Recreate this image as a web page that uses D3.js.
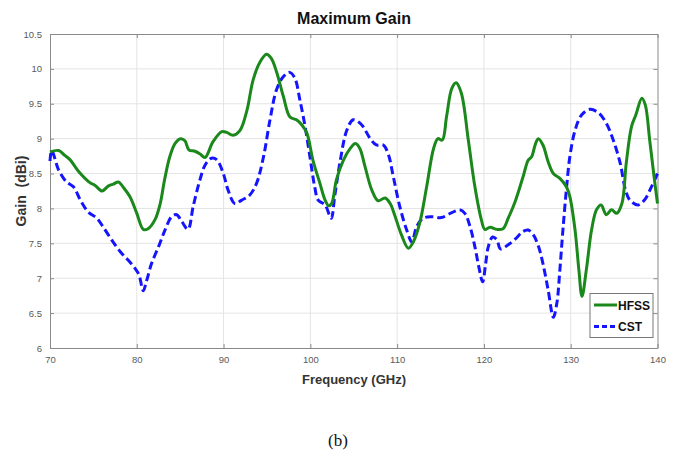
<!DOCTYPE html>
<html>
<head>
<meta charset="utf-8">
<script src="https://cdn.jsdelivr.net/npm/d3@7"></script>
<style>
  html, body { margin: 0; padding: 0; background: #fff; }
  svg { display: block; }
</style>
</head>
<body>
<svg id="chart" width="673" height="454"></svg>
<script>
// ---- Data ----
const title = "Maximum Gain";
const xLabel = "Frequency (GHz)";
const yLabel = "Gain  (dBi)";
const caption = "(b)";
const seriesNames = ["HFSS", "CST"];
const xTicks = [70, 80, 90, 100, 110, 120, 130, 140];
const yTicks = [6, 6.5, 7, 7.5, 8, 8.5, 9, 9.5, 10, 10.5];

const hfssFreq = [70, 71, 71.7, 72.3, 73.3, 74.6, 75.2, 76.0, 76.7, 77.3, 77.9, 78.4, 79.2, 80.0, 80.75, 81.3, 82.1, 82.7, 83.2, 83.8, 84.4, 85.05, 85.55, 86.0, 86.7, 87.3, 87.86, 88.8, 89.8, 90.35, 91.1, 91.9, 92.7, 93.4, 94.2, 94.96, 95.5, 96.1, 96.9, 97.65, 98.4, 99.0, 99.6, 100.3, 101.1, 101.7, 102.1, 102.45, 103.0, 103.8, 104.6, 105.2, 105.7, 106.3, 107.06, 107.8, 108.6, 109.2, 109.7, 110.5, 111.3, 111.86, 112.6, 113.4, 114.2, 114.7, 115.2, 115.7, 116.3, 116.8, 117.4, 118.2, 118.96, 119.7, 120.1, 120.7, 121.5, 122.2, 122.8, 123.6, 124.5, 125.1, 125.5, 125.9, 126.26, 126.8, 127.4, 128.0, 128.75, 129.5, 129.9, 130.5, 130.94, 131.3, 131.8, 132.4, 132.97, 133.5, 134.1, 134.7, 135.3, 135.9, 136.4, 137.0, 137.5, 138.2, 138.6, 139.1, 139.6, 140];
const hfssGain = [8.81, 8.83, 8.76, 8.70, 8.53, 8.37, 8.33, 8.25, 8.32, 8.35, 8.38, 8.31, 8.17, 7.93, 7.70, 7.71, 7.84, 8.07, 8.41, 8.74, 8.93, 9.0, 8.97, 8.84, 8.82, 8.78, 8.73, 8.96, 9.10, 9.09, 9.05, 9.12, 9.41, 9.84, 10.10, 10.21, 10.15, 9.96, 9.60, 9.31, 9.27, 9.20, 9.08, 8.69, 8.36, 8.12, 8.04, 8.07, 8.41, 8.69, 8.86, 8.93, 8.86, 8.60, 8.27, 8.11, 8.15, 8.07, 7.91, 7.62, 7.43, 7.52, 7.79, 8.31, 8.86, 9.0, 8.98, 9.32, 9.72, 9.80, 9.65, 8.98, 8.31, 7.84, 7.70, 7.73, 7.70, 7.71, 7.86, 8.10, 8.45, 8.69, 8.74, 8.91, 9.0, 8.91, 8.67, 8.50, 8.43, 8.31, 8.17, 7.69, 7.12, 6.74, 7.12, 7.69, 7.98, 8.05, 7.91, 7.98, 7.93, 8.07, 8.65, 9.17, 9.34, 9.58, 9.48, 8.98, 8.46, 8.07];

const cstFreq = [70, 70.2, 71.0, 71.9, 72.7, 73.5, 74.4, 75.4, 76.1, 77.1, 78.1, 79.0, 79.8, 80.25, 80.75, 81.1, 81.7, 82.5, 83.25, 84.0, 84.6, 85.2, 85.9, 86.5, 87.3, 87.86, 88.6, 89.2, 89.97, 90.5, 91.3, 92.1, 93.0, 93.8, 94.6, 95.35, 96.1, 96.9, 97.6, 98.2, 98.8, 99.4, 99.95, 100.5, 100.9, 101.7, 102.4, 102.8, 103.4, 104.2, 104.95, 105.9, 106.9, 107.6, 108.4, 109.0, 109.55, 110.3, 111.1, 111.7, 112.25, 113.0, 114.0, 115.1, 116.3, 117.2, 117.8, 118.4, 118.96, 119.4, 119.85, 120.2, 120.5, 121.0, 121.5, 121.9, 122.8, 123.6, 124.5, 125.1, 125.7, 126.3, 126.8, 127.4, 128.0, 128.4, 128.75, 129.1, 129.5, 129.9, 130.5, 131.25, 132.2, 133.2, 134.1, 134.9, 135.7, 136.3, 136.8, 137.75, 138.5, 139.3, 140];
const cstGain = [8.68, 8.83, 8.55, 8.38, 8.31, 8.12, 7.95, 7.86, 7.74, 7.55, 7.38, 7.26, 7.14, 7.05, 6.82, 6.95, 7.21, 7.45, 7.69, 7.88, 7.91, 7.81, 7.70, 8.03, 8.42, 8.62, 8.72, 8.70, 8.50, 8.27, 8.07, 8.12, 8.19, 8.36, 8.74, 9.27, 9.70, 9.89, 9.95, 9.87, 9.55, 9.17, 8.74, 8.31, 8.12, 8.05, 7.86, 8.17, 8.65, 9.12, 9.27, 9.20, 9.0, 8.91, 8.91, 8.77, 8.46, 8.03, 7.69, 7.52, 7.74, 7.86, 7.88, 7.87, 7.94, 7.98, 7.93, 7.74, 7.45, 7.17, 6.95, 7.21, 7.45, 7.59, 7.55, 7.42, 7.48, 7.56, 7.67, 7.69, 7.62, 7.45, 7.21, 6.83, 6.44, 6.64, 7.12, 7.69, 8.27, 8.74, 9.12, 9.34, 9.42, 9.37, 9.22, 8.98, 8.65, 8.27, 8.12, 8.05, 8.12, 8.31, 8.50];

const seriesColors = ["#1a881a", "#1414ff"];

// ---- Layout ----
const svg = d3.select("#chart");

const x = d3.scaleLinear().domain([70, 140]).range([50, 657.5]);
const y = d3.scaleLinear().domain([6, 10.5]).range([348, 34]);

// grid
const grid = svg.append("g");
grid.selectAll("line.gx").data(xTicks.slice(1, -1)).join("line")
  .attr("x1", d => x(d)).attr("x2", d => x(d))
  .attr("y1", y(6)).attr("y2", y(10.5))
  .attr("stroke", "#e4e4e4").attr("stroke-width", 1);
grid.selectAll("line.gy").data(yTicks.slice(1, -1)).join("line")
  .attr("x1", x(70)).attr("x2", x(140))
  .attr("y1", d => y(d)).attr("y2", d => y(d))
  .attr("stroke", "#e4e4e4").attr("stroke-width", 1);

// axes
const axisColor = "#8a8a8a";
function styleAxis(g, showText) {
  g.select(".domain").attr("stroke", axisColor);
  g.selectAll(".tick line").attr("stroke", axisColor);
  g.selectAll(".tick text").attr("fill", "#5a5a5a").attr("font-size", "9.5px")
    .attr("font-family", "'Liberation Sans Narrow', 'Liberation Sans', Arial, sans-serif");
  if (!showText) g.selectAll(".tick text").remove();
}
const fmt = d => String(d);
svg.append("g").attr("transform", `translate(0,${y(6)})`)
  .call(d3.axisBottom(x).tickValues(xTicks).tickFormat(fmt).tickSizeInner(-4).tickSizeOuter(0).tickPadding(8))
  .call(g => styleAxis(g, true));
svg.append("g").attr("transform", `translate(0,${y(10.5)})`)
  .call(d3.axisTop(x).tickValues(xTicks).tickSizeInner(-4).tickSizeOuter(0))
  .call(g => styleAxis(g, false));
svg.append("g").attr("transform", `translate(${x(70)},0)`)
  .call(d3.axisLeft(y).tickValues(yTicks).tickFormat(fmt).tickSizeInner(-4).tickSizeOuter(0).tickPadding(8))
  .call(g => styleAxis(g, true));
svg.append("g").attr("transform", `translate(${x(140)},0)`)
  .call(d3.axisRight(y).tickValues(yTicks).tickSizeInner(-4).tickSizeOuter(0))
  .call(g => styleAxis(g, false));

// lines
const line = d3.line().x(d => x(d[0])).y(d => y(d[1])).curve(d3.curveCatmullRom.alpha(0.5));
const hfss = hfssFreq.map((f, i) => [f, hfssGain[i]]);
const cst = cstFreq.map((f, i) => [f, cstGain[i]]);

svg.append("path").datum(cst).attr("d", line)
  .attr("fill", "none").attr("stroke", seriesColors[1]).attr("stroke-width", 3)
  .attr("stroke-dasharray", "8,4");
svg.append("path").datum(hfss).attr("d", line)
  .attr("fill", "none").attr("stroke", seriesColors[0]).attr("stroke-width", 3);

// title & labels
svg.append("text").attr("x", 354).attr("y", 24).attr("text-anchor", "middle")
  .attr("font-family", "'Liberation Sans', Arial, sans-serif").attr("font-weight", "bold")
  .attr("font-size", "16px").attr("fill", "#111").text(title);
svg.append("text").attr("x", 354).attr("y", 384).attr("text-anchor", "middle")
  .attr("font-family", "'Liberation Sans', Arial, sans-serif").attr("font-weight", "bold")
  .attr("font-size", "13px").attr("fill", "#333").text(xLabel);
svg.append("text").attr("transform", `translate(26,${(y(6) + y(10.5)) / 2}) rotate(-90)`)
  .attr("text-anchor", "middle")
  .attr("font-family", "'Liberation Sans', Arial, sans-serif").attr("font-weight", "bold")
  .attr("font-size", "14px").attr("fill", "#333").style("white-space", "pre").text(yLabel);
svg.append("text").attr("x", 338).attr("y", 446).attr("text-anchor", "middle")
  .attr("font-family", "'Liberation Serif', 'Times New Roman', serif")
  .attr("font-size", "17px").attr("fill", "#111").text(caption);

// legend
const lg = svg.append("g");
lg.append("rect").attr("x", 590).attr("y", 293.5).attr("width", 63).attr("height", 44)
  .attr("fill", "#fff").attr("stroke", "#777").attr("stroke-width", 1);
const legY = [305, 326.5];
seriesNames.forEach((name, i) => {
  lg.append("line").attr("x1", 594).attr("x2", 617).attr("y1", legY[i]).attr("y2", legY[i])
    .attr("stroke", seriesColors[i]).attr("stroke-width", 3)
    .attr("stroke-dasharray", i === 1 ? "5,3" : null);
  lg.append("text").attr("x", 618).attr("y", legY[i] + 4.5)
    .attr("font-family", "'Liberation Sans Narrow', 'Liberation Sans', Arial, sans-serif")
    .attr("font-weight", "bold").attr("font-size", "12px").attr("fill", "#111").text(name);
});
</script>
</body>
</html>
